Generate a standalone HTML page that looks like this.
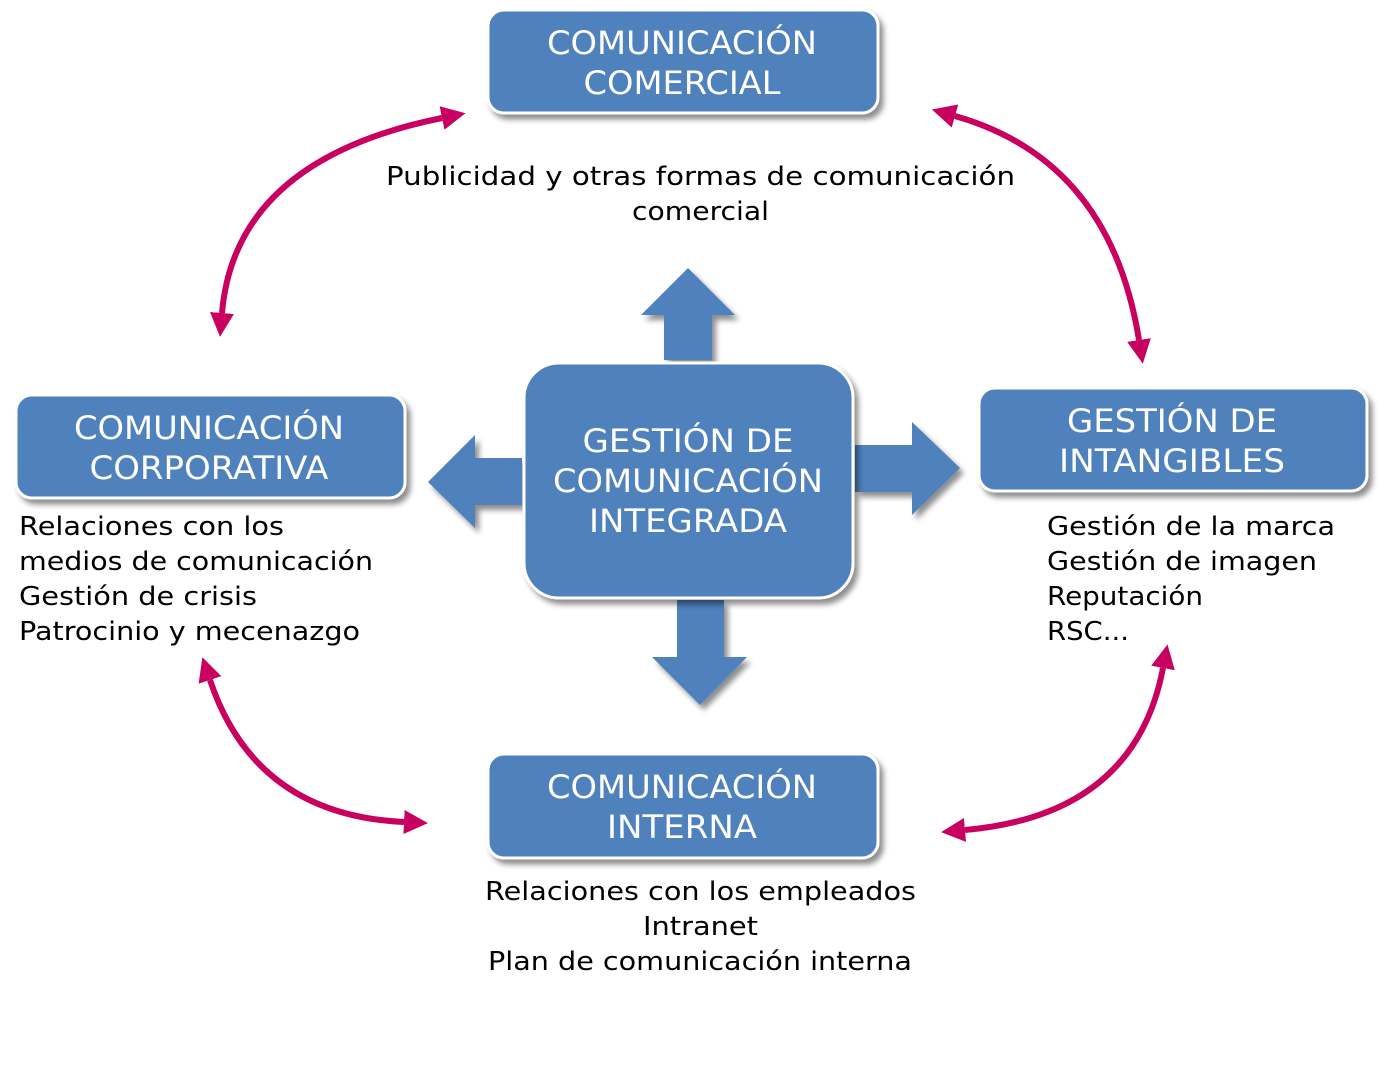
<!DOCTYPE html>
<html><head><meta charset="utf-8"><style>
html,body{margin:0;padding:0;background:#fff;}
svg{display:block;}
.t{font-family:"DejaVu Sans","Liberation Sans",sans-serif;fill:#fff;font-size:32px;}
.b{font-family:"DejaVu Sans","Liberation Sans",sans-serif;fill:#000;font-size:26px;}
</style></head><body>
<svg width="1398" height="1069" viewBox="0 0 1398 1069" xmlns="http://www.w3.org/2000/svg">
<defs>
<filter id="sh" x="-10%" y="-10%" width="130%" height="130%">
<feGaussianBlur in="SourceAlpha" stdDeviation="3"/><feOffset dx="4" dy="5"/>
<feComponentTransfer><feFuncA type="linear" slope="0.45"/></feComponentTransfer>
<feMerge><feMergeNode/><feMergeNode in="SourceGraphic"/></feMerge></filter>
<marker id="ah" viewBox="0 0 10 10" markerWidth="4" markerHeight="4" refX="0" refY="5" orient="auto-start-reverse" markerUnits="strokeWidth">
<path d="M0,0 L10,5 L0,10 z" fill="#c8005f"/></marker>
</defs>
<g fill="#4f81bd" stroke="#fff" stroke-width="3" filter="url(#sh)">
<rect x="488" y="10" width="390" height="103" rx="16"/>
<rect x="16" y="395" width="389" height="103" rx="16"/>
<rect x="979" y="388" width="388" height="103" rx="16"/>
<rect x="488" y="754" width="390" height="104" rx="16"/>
</g>
<g fill="#4f81bd" filter="url(#sh)">
<path d="M664,360 L664,315 L641,315 L688,268 L735,315 L712,315 L712,360 z"/>
<path d="M522,458 L475,458 L475,435 L428,482 L475,528 L475,505 L522,505 z"/>
<path d="M855,445 L912,445 L912,422 L960,468 L912,515 L912,492 L855,492 z"/>
<path d="M677,600 L677,657 L652,657 L700,705 L747,657 L724,657 L724,600 z"/>
</g>
<rect x="524" y="363" width="329" height="235" rx="35" fill="#4f81bd" stroke="#fff" stroke-width="3" filter="url(#sh)"/>
<g fill="none" stroke="#c8005f" stroke-width="6" marker-start="url(#ah)" marker-end="url(#ah)">
<path d="M222,313 Q235,160 442,118"/>
<path d="M955,116 Q1110,160 1139,340"/>
<path d="M210,680 Q255,815 404,822"/>
<path d="M1163,668 Q1135,815 965,830"/>
</g>
<g class="t" text-anchor="middle">
<text x="682" y="54" textLength="270" lengthAdjust="spacingAndGlyphs">COMUNICACIÓN</text>
<text x="682" y="94" textLength="197" lengthAdjust="spacingAndGlyphs">COMERCIAL</text>
<text x="209" y="439" textLength="270" lengthAdjust="spacingAndGlyphs">COMUNICACIÓN</text>
<text x="209" y="479" textLength="239" lengthAdjust="spacingAndGlyphs">CORPORATIVA</text>
<text x="1172" y="432" textLength="210" lengthAdjust="spacingAndGlyphs">GESTIÓN DE</text>
<text x="1172" y="472" textLength="226" lengthAdjust="spacingAndGlyphs">INTANGIBLES</text>
<text x="682" y="798" textLength="270" lengthAdjust="spacingAndGlyphs">COMUNICACIÓN</text>
<text x="682" y="838" textLength="150" lengthAdjust="spacingAndGlyphs">INTERNA</text>
<text x="688" y="452" textLength="211" lengthAdjust="spacingAndGlyphs">GESTIÓN DE</text>
<text x="688" y="492" textLength="270" lengthAdjust="spacingAndGlyphs">COMUNICACIÓN</text>
<text x="688" y="532" textLength="198" lengthAdjust="spacingAndGlyphs">INTEGRADA</text>
</g>
<g class="b">
<text x="386" y="185" textLength="629" lengthAdjust="spacingAndGlyphs">Publicidad  y otras formas de comunicación</text>
<text x="632" y="220" textLength="137" lengthAdjust="spacingAndGlyphs">comercial</text>
<text x="19" y="535" textLength="265" lengthAdjust="spacingAndGlyphs">Relaciones con los</text>
<text x="19" y="570" textLength="354" lengthAdjust="spacingAndGlyphs">medios de comunicación</text>
<text x="19" y="605" textLength="238" lengthAdjust="spacingAndGlyphs">Gestión de crisis</text>
<text x="19" y="640" textLength="341" lengthAdjust="spacingAndGlyphs">Patrocinio y mecenazgo</text>
<text x="1047" y="535" textLength="288" lengthAdjust="spacingAndGlyphs">Gestión de la marca</text>
<text x="1047" y="570" textLength="270" lengthAdjust="spacingAndGlyphs">Gestión de imagen</text>
<text x="1047" y="605" textLength="156" lengthAdjust="spacingAndGlyphs">Reputación</text>
<text x="1047" y="640" textLength="82" lengthAdjust="spacingAndGlyphs">RSC...</text>
<text x="485" y="900" textLength="431" lengthAdjust="spacingAndGlyphs">Relaciones con los empleados</text>
<text x="643" y="935" textLength="115" lengthAdjust="spacingAndGlyphs">Intranet</text>
<text x="488" y="970" textLength="424" lengthAdjust="spacingAndGlyphs">Plan de comunicación interna</text>
</g>
</svg>
</body></html>
